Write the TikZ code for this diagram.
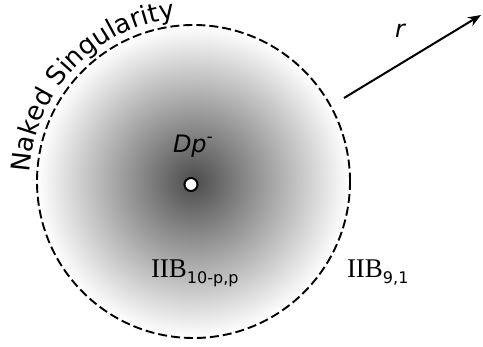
\documentclass[tikz,border=0pt]{standalone}
\usepackage{fontspec}
\setmainfont{Liberation Serif}
\newfontfamily\vsans{DejaVu Sans}
\usetikzlibrary{decorations.text,arrows.meta}
\pgfdeclareradialshading{singshade}{\pgfpoint{0bp}{0bp}}{color(0bp)=(black!70); color(25bp)=(white); color(50bp)=(white)}
\tikzset{
  horizon/.style={circle, draw, line width=1.9pt, dash pattern=on 9pt off 4pt, shading=singshade, minimum size=313pt, inner sep=0pt},
  dpdot/.style={circle, draw, line width=2pt, fill=white, minimum size=13pt, inner sep=0pt},
  lbl/.style={anchor=base west, inner sep=0pt, outer sep=0pt},
  rarrow/.style={line width=2pt, -{Stealth[length=13pt, width=10pt]}}
}
\begin{document}
\begin{tikzpicture}[x=1pt,y=1pt]
\useasboundingbox (0,0) rectangle (483,-347);
\node[horizon] (hz) at (193.5,-181.5) {};
\node[dpdot] (dp) at (191,-184.5) {};
\node[lbl] (dplabel) at (173,-153) {\vsans\itshape\fontsize{24}{24}\selectfont Dp\raisebox{10pt}{\fontsize{17}{17}\selectfont -}};
\node[lbl] (inner) at (151,-278) {\fontsize{27}{27}\selectfont IIB\raisebox{-6pt}{\vsans\fontsize{16}{16}\selectfont 10-p,p}};
\node[lbl] (outer) at (347,-278) {\fontsize{27}{27}\selectfont IIB\raisebox{-6pt}{\vsans\fontsize{16}{16}\selectfont 9,1}};
\coordinate (rs) at (344,-98);
\coordinate (re) at (481,-15);
\draw[rarrow] (rs) -- (re);
\node[lbl] (rlabel) at (395,-38) {\vsans\itshape\fontsize{24}{24}\selectfont r};
\path[decorate, decoration={text along path, text align=left,
  text={|\vsans\fontsize{26}{26}\selectfont|Naked Singularity}}]
  (hz.center) ++(177:164) arc[start angle=177, end angle=50, radius=164];
\end{tikzpicture}
\end{document}
